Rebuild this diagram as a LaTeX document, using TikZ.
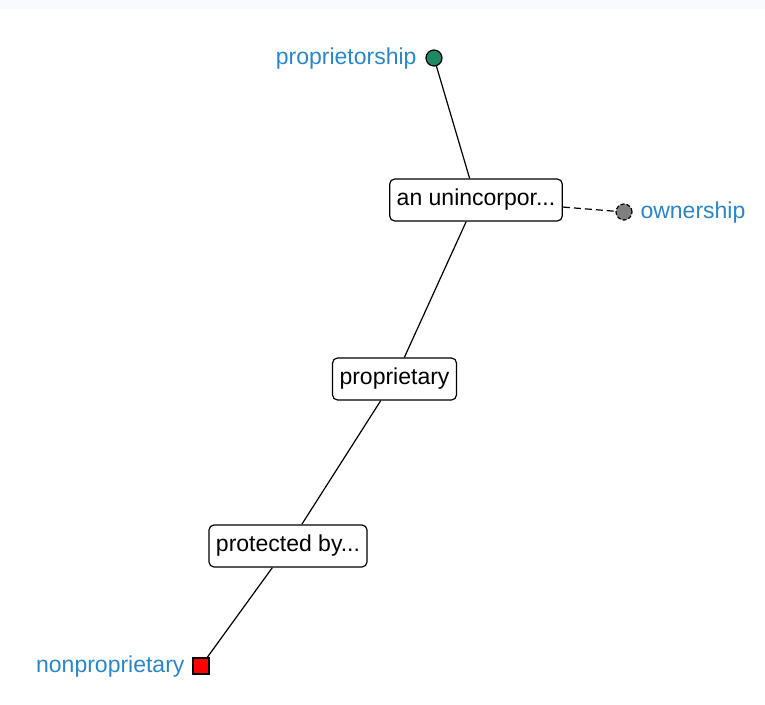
\documentclass[tikz,border=0pt]{standalone}
\usepackage{fontspec}
\setmainfont{Liberation Sans}
\definecolor{lblblue}{HTML}{2A86C8}
\definecolor{dotgreen}{HTML}{1E8A63}
\definecolor{dotgray}{HTML}{808080}
\definecolor{topstrip}{HTML}{F8FAFD}
\begin{document}
\begin{tikzpicture}[x=1pt,y=-1pt,
  box/.style={draw,rounded corners=5pt,fill=white,line width=1.2pt,minimum height=42pt,inner xsep=7pt,font=\fontsize{23}{27}\selectfont},
  lbl/.style={text=lblblue,font=\fontsize{23}{27}\selectfont},
  edge/.style={line width=1.2pt}]
\useasboundingbox (0,0) rectangle (765,704);
\fill[topstrip] (0,0) rectangle (765,9);
\node[circle,draw,fill=dotgreen,line width=1.2pt,minimum size=16pt,inner sep=0pt] (p) at (434,58) {};
\node[lbl,anchor=east] (pl) at (420,59) {proprietorship};
\node[box] (b1) at (476,200) {an unincorpor...};
\node[circle,draw,dash pattern=on 4pt off 2pt,fill=dotgray,line width=1.2pt,minimum size=16pt,inner sep=0pt] (o) at (624,212) {};
\node[lbl,anchor=west] (ol) at (637,213) {ownership};
\node[box] (b2) at (394.5,379) {proprietary};
\node[box] (b3) at (288,546) {protected by...};
\node[rectangle,draw,fill=red,line width=1.2pt,minimum size=16pt,inner sep=0pt] (n) at (201,666) {};
\node[lbl,anchor=east] (nl) at (188,667) {nonproprietary};
\draw[edge] (p) -- (b1);
\draw[edge] (b1) -- (b2);
\draw[edge] (b2) -- (b3);
\draw[edge] (b3) -- (n);
\draw[edge,dash pattern=on 7pt off 4pt] (b1) -- (o);
\end{tikzpicture}
\end{document}
